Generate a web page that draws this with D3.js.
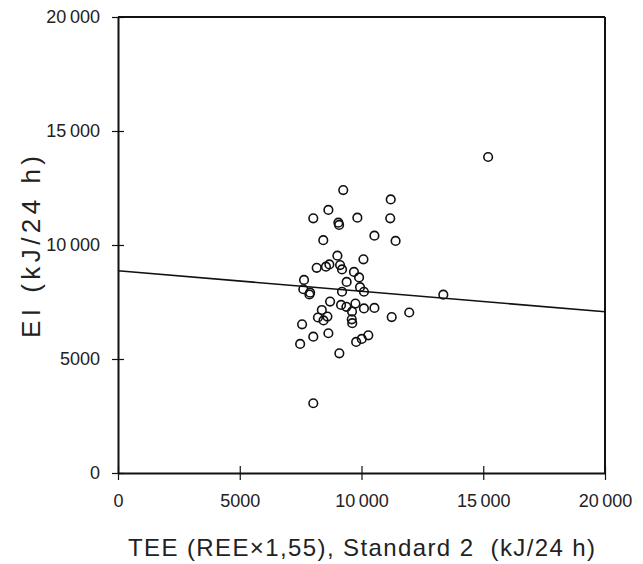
<!DOCTYPE html>
<html>
<head>
<meta charset="utf-8">
<script src="https://cdn.jsdelivr.net/npm/d3@7"></script>
<style>
  html, body { margin: 0; padding: 0; background: #fff; }
  svg { display: block; }
  text { font-family: "Liberation Sans", Arial, sans-serif; fill: #222; }
</style>
</head>
<body>
<svg id="chart" width="643" height="564"></svg>
<script>
// TEE (kJ/24 h) values
const teeValues = [9250, 11200, 8640, 8020, 9830, 11180, 9050, 9080, 10530, 11400,
  8430, 9010, 10080, 8160, 8540, 8680, 9120, 9200, 9690, 9900,
  7640, 9390, 9940, 7610, 7890, 7860, 9200, 10100, 13360, 8710,
  9160, 9380, 9750, 10100, 10530, 8370, 9610, 8210, 8600, 11240,
  11960, 8440, 9600, 9620, 7560, 8020, 8640, 7480, 9780, 10010,
  10280, 9090, 8020, 15200];
// EI (kJ/24 h) values
const eiValues = [12410, 12000, 11540, 11170, 11200, 11170, 10980, 10880, 10410, 10180,
  10210, 9530, 9370, 9000, 9050, 9150, 9120, 8930, 8820, 8580,
  8470, 8380, 8150, 8060, 7910, 7830, 7950, 7950, 7820, 7520,
  7370, 7290, 7430, 7220, 7240, 7150, 7080, 6820, 6860, 6840,
  7040, 6690, 6740, 6570, 6520, 5980, 6130, 5660, 5750, 5880,
  6040, 5250, 3060, 13860];
// regression line end points
const lineX = [0, 20000];
const lineY = [8870, 7070];
const tickValues = [0, 5000, 10000, 15000, 20000];
const tickLabels = ["0", "5000", "10\u2009000", "15\u2009000", "20\u2009000"];
const xTitle = "TEE (REE\u00d71,55), Standard 2\u00a0 (kJ/24 h)";
const yTitle = "EI (kJ/24 h)";

(function () {
const svg = d3.select("#chart");
const mLeft = 118, mRight = 605, mTop = 17, mBottom = 473;
const x = d3.scaleLinear().domain([0, 20000]).range([mLeft, mRight]);
const y = d3.scaleLinear().domain([0, 20000]).range([mBottom, mTop]);
const fmt = v => tickLabels[tickValues.indexOf(v)];

// frame top / right
svg.append("line").attr("x1", mLeft).attr("x2", mRight).attr("y1", mTop).attr("y2", mTop)
  .attr("stroke", "#111").attr("stroke-width", 2);
svg.append("line").attr("x1", mRight).attr("x2", mRight).attr("y1", mTop).attr("y2", mBottom)
  .attr("stroke", "#111").attr("stroke-width", 2);

// axes
const xAxis = svg.append("g").attr("transform", `translate(0,${mBottom})`)
  .call(d3.axisBottom(x).tickValues(tickValues).tickFormat(fmt).tickSize(7).tickSizeOuter(0));
xAxis.selectAll(".tick line").attr("y1", -7).attr("stroke", "#111").attr("stroke-width", 1.2);
xAxis.select(".domain").attr("stroke", "#111").attr("stroke-width", 2);
xAxis.selectAll("text").attr("font-size", 18).attr("y", 21).attr("dy", "0.71em")
  .style("font-family", "Liberation Sans, Arial, sans-serif").attr("fill", "#222");

const yAxis = svg.append("g").attr("transform", `translate(${mLeft},0)`)
  .call(d3.axisLeft(y).tickValues(tickValues).tickFormat(fmt).tickSize(6).tickSizeOuter(0));
yAxis.selectAll(".tick line").attr("x1", 6).attr("x2", -6).attr("stroke", "#111").attr("stroke-width", 1.2);
yAxis.select(".domain").attr("stroke", "#111").attr("stroke-width", 2);
yAxis.selectAll("text").attr("font-size", 18).attr("x", -18)
  .style("font-family", "Liberation Sans, Arial, sans-serif").attr("fill", "#222");

// regression line
svg.append("line")
  .attr("x1", x(lineX[0])).attr("y1", y(lineY[0]))
  .attr("x2", x(lineX[1])).attr("y2", y(lineY[1]))
  .attr("stroke", "#111").attr("stroke-width", 1.6);

// points
svg.append("g").selectAll("circle")
  .data(teeValues.map((v, i) => [v, eiValues[i]]))
  .join("circle")
  .attr("cx", d => x(d[0])).attr("cy", d => y(d[1]))
  .attr("r", 4.3)
  .attr("fill", "none").attr("stroke", "#111").attr("stroke-width", 1.6);

// titles
svg.append("text").attr("x", 128).attr("y", 556)
  .attr("text-anchor", "start").attr("font-size", 24)
  .attr("textLength", 467).attr("lengthAdjust", "spacing").text(xTitle);
svg.append("text").attr("transform", "translate(40,338) rotate(-90)")
  .attr("text-anchor", "start").attr("font-size", 26)
  .attr("textLength", 182).attr("lengthAdjust", "spacing").text(yTitle);
})();
</script>
</body>
</html>
